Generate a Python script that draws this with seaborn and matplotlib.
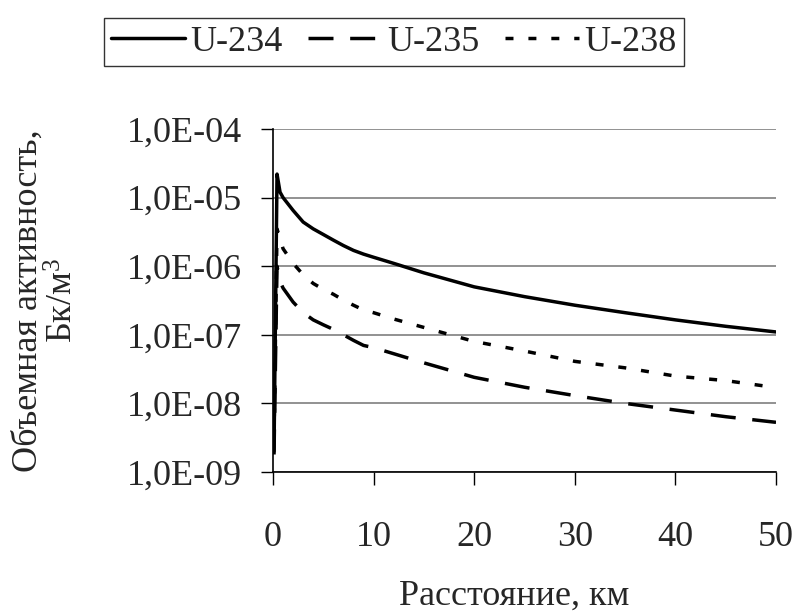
import numpy as np
import pandas as pd
import matplotlib
matplotlib.use("Agg")
import matplotlib.pyplot as plt
import seaborn as sns
from matplotlib.lines import Line2D
from matplotlib.ticker import LogLocator, NullFormatter

# ---- data ----
distance_km = [0.1, 0.4, 0.7, 1, 2, 3, 4, 5, 6, 7, 8, 9, 10, 12, 15, 20, 25, 30, 35, 40, 45, 50]
u234 = [2e-9, 2.2e-5, 1.2e-5, 1.0e-5, 6.5e-6, 4.4e-6, 3.5e-6, 2.9e-6, 2.4e-6, 2.0e-6, 1.7e-6,
        1.5e-6, 1.35e-6, 1.1e-6, 8e-7, 5e-7, 3.6e-7, 2.7e-7, 2.1e-7, 1.65e-7, 1.33e-7, 1.1e-7]
u235 = [1.8e-9, 1.0e-6, 6e-7, 4.8e-7, 3e-7, 2.1e-7, 1.65e-7, 1.4e-7, 1.2e-7, 1.0e-7, 8.3e-8,
        7e-8, 6.5e-8, 5.3e-8, 3.9e-8, 2.4e-8, 1.72e-8, 1.3e-8, 1.0e-8, 8e-9, 6.4e-9, 5.3e-9]
u238 = [3e-9, 3.5e-6, 2.5e-6, 1.8e-6, 1.1e-6, 7.5e-7, 5.6e-7, 4.6e-7, 3.9e-7, 3.2e-7, 2.7e-7,
        2.3e-7, 2.1e-7, 1.7e-7, 1.28e-7, 8e-8, 5.8e-8, 4.1e-8, 3.3e-8, 2.5e-8, 2.15e-8, 1.7e-8]
series_names = ["U-234", "U-235", "U-238"]
y_tick_values = [1e-9, 1e-8, 1e-7, 1e-6, 1e-5, 1e-4]
y_tick_labels = ["1,0E-09", "1,0E-08", "1,0E-07", "1,0E-06", "1,0E-05", "1,0E-04"]
x_ticks = [0, 10, 20, 30, 40, 50]

df = pd.DataFrame({
    "dist": distance_km * 3,
    "act": u234 + u235 + u238,
    "iso": [series_names[0]] * len(distance_km) + [series_names[1]] * len(distance_km)
           + [series_names[2]] * len(distance_km),
})

sns.set_theme(style="white")
plt.rcParams['font.family'] = ['Liberation Serif', 'DejaVu Serif']
plt.rcParams['mathtext.fontset'] = 'custom'
plt.rcParams['mathtext.rm'] = 'Liberation Serif'
plt.rcParams['mathtext.it'] = 'Liberation Serif'

FS = 26
LW = 2.5
dash_map = {"U-234": "", "U-235": (7.2, 4.8), "U-238": (2.3, 4.3)}

fig = plt.figure(figsize=(7.97, 6.15), dpi=100)
ax = fig.add_axes([273 / 797, 1 - 472 / 615, (776 - 273) / 797, (472 - 129) / 615])

sns.lineplot(data=df, x="dist", y="act", hue="iso", style="iso",
             palette=["black"] * 3, dashes=dash_map, linewidth=LW,
             estimator=None, sort=False, legend=False, ax=ax)

ax.set_yscale("log")
ax.set_ylim(1e-9, 1e-4)
ax.set_xlim(0, 50)
ax.set_yticks(y_tick_values)
ax.set_yticklabels(y_tick_labels)
ax.yaxis.set_minor_locator(LogLocator(base=10, subs=np.arange(2, 10)))
ax.yaxis.set_minor_formatter(NullFormatter())
ax.set_xticks(x_ticks)
ax.set_xticklabels([str(v) for v in x_ticks])

ax.yaxis.grid(True, which="major", color="#7f7f7f", linewidth=1.2)
ax.xaxis.grid(False)
for s in ["top", "right"]:
    ax.spines[s].set_visible(False)
for s in ["left", "bottom"]:
    ax.spines[s].set_color("black")
    ax.spines[s].set_linewidth(1.2)

ax.tick_params(axis="y", which="major", direction="out", length=9, width=1, color="black",
               labelsize=FS, pad=13, left=True)
ax.tick_params(axis="y", which="minor", direction="out", length=6, width=1, color="#666666", left=True)
ax.tick_params(axis="x", which="major", direction="out", length=9, width=1, color="black",
               labelsize=FS, pad=26, bottom=True)

ax.set_xlabel("Расстояние, км", fontsize=FS, va="center")
ax.xaxis.set_label_coords((514 - 273) / 503, (472 - 596) / 343)
ax.set_ylabel("Объемная активность,\nБк/м$^3$", fontsize=FS, ha="center", va="center",
              rotation_mode="default", multialignment="center", linespacing=1.1)
ax.yaxis.set_label_coords((46 - 273) / 503, 0.5)

handles = [Line2D([], [], color="black", linewidth=LW, linestyle="-"),
           Line2D([], [], color="black", linewidth=LW, dashes=dash_map["U-235"]),
           Line2D([], [], color="black", linewidth=LW, dashes=dash_map["U-238"])]
leg = fig.legend(handles, series_names, loc="center", bbox_to_anchor=(394 / 797, 1 - 42 / 615),
                 ncol=3, frameon=True, fancybox=False, edgecolor="black", fontsize=FS,
                 handlelength=2.05, handletextpad=0.15, columnspacing=0.7, borderpad=0.2,
                 borderaxespad=0)
leg.get_frame().set_linewidth(1.0)

fig.savefig("out.png", dpi=100)
